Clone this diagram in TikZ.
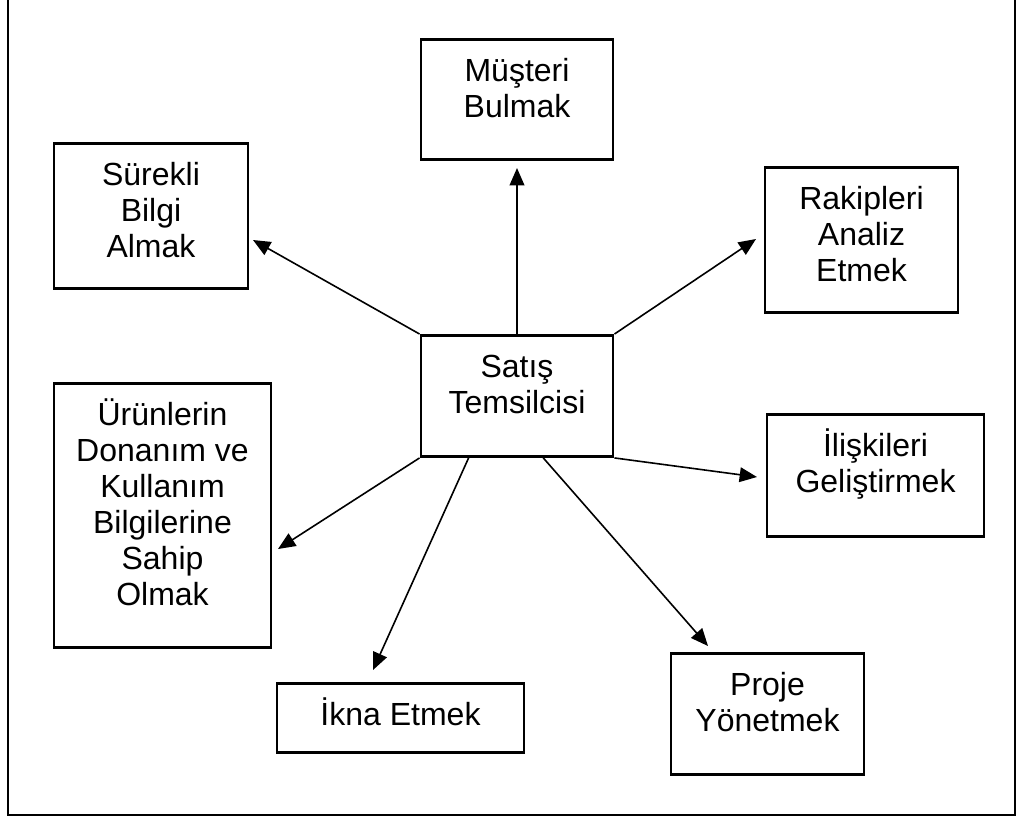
\documentclass[tikz,border=0pt]{standalone}
\usepackage{fontspec}
\setmainfont{Liberation Sans}
\usetikzlibrary{arrows.meta, positioning}
\tikzstyle{block} = [rectangle, draw=black, line width=2.2pt, anchor=north, align=center, inner xsep=4pt, inner ysep=0pt, font=\fontsize{24pt}{27pt}\selectfont]
\tikzstyle{arrow} = [line width=1.2pt, -{Triangle[length=13pt,width=11pt]}]
\tikzstyle{frame} = [line width=2.2pt]

\begin{document}
\begin{tikzpicture}[x=0.75pt, y=-0.75pt]
  \useasboundingbox (0,0) rectangle (1016,819);
  \draw [frame] (8,0) -- (8,815) -- (1015,815) -- (1015,0);

  \node (satis) [block, minimum width=144pt, text height=58.5pt, text depth=32.25pt] at (517,334) {Satış\\Temsilcisi};
  \node (musteri) [block, minimum width=144pt, text height=58.5pt, text depth=31.5pt] at (517,38) {Müşteri\\Bulmak};
  \node (surekli) [block, minimum width=145.5pt, text height=85.5pt, text depth=23.25pt] at (151,142) {Sürekli\\Bilgi\\Almak};
  \node (rakip) [block, minimum width=144.75pt, text height=85.5pt, text depth=23.25pt] at (861.5,166) {Rakipleri\\Analiz\\Etmek};
  \node (urun) [block, minimum width=162.75pt, text height=166.5pt, text depth=31.5pt] at (162.5,382) {Ürünlerin\\Donanım ve\\Kullanım\\Bilgilerine\\Sahip\\Olmak};
  \node (iliski) [block, minimum width=162.75pt, text height=58.5pt, text depth=33pt] at (875.5,413) {İlişkileri\\Geliştirmek};
  \node (ikna) [block, minimum width=185.25pt, text height=31.5pt, text depth=20.25pt] at (400.5,682) {İkna Etmek};
  \node (proje) [block, minimum width=144.75pt, text height=58.5pt, text depth=32.25pt] at (767.5,652) {Proje\\Yönetmek};

  % arrow tips stop short of the boxes
  \coordinate (musteri-in) at (517,168);
  \coordinate (surekli-in) at (253,240);
  \coordinate (rakip-in) at (756,239);
  \coordinate (urun-in) at (278,549);
  \coordinate (iliski-in) at (757,477);
  \coordinate (ikna-in) at (373,670);
  \coordinate (proje-in) at (708,646);

  \draw [arrow] (satis.north) -- (musteri-in);
  \draw [arrow] (satis.north west) -- (surekli-in);
  \draw [arrow] (satis.north east) -- (rakip-in);
  \draw [arrow] (satis.south west) -- (urun-in);
  \draw [arrow] (satis.south east) -- (iliski-in);
  \draw [arrow] (satis.-128.4) -- (ikna-in);
  \draw [arrow] (satis.-67.5) -- (proje-in);
\end{tikzpicture}
\end{document}
